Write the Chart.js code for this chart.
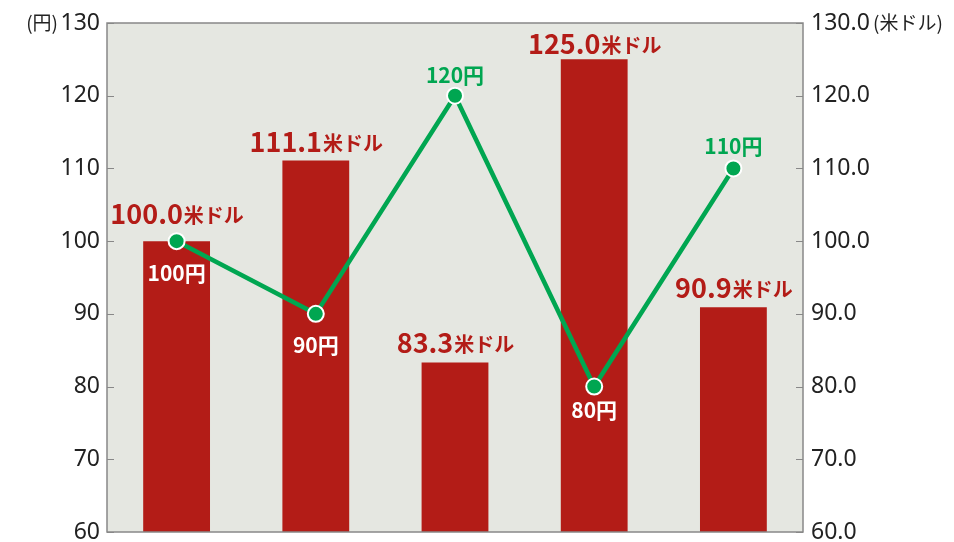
<!DOCTYPE html>
<html>
<head>
<meta charset="utf-8">
<script src="https://cdn.jsdelivr.net/npm/chart.js@4.4.1/dist/chart.umd.min.js"></script>
<style>
  html, body { margin: 0; padding: 0; background: #fff; }
  #wrap { width: 954px; height: 542px; }
</style>
</head>
<body>
<div id="wrap"><canvas id="chart" width="954" height="542"></canvas></div>
<script>
// values
var categories = ['1', '2', '3', '4', '5'];
var usdValues = [100.0, 111.1, 83.3, 125.0, 90.9];
var yenValues = [100, 90, 120, 80, 110];
var yTicks = [60, 70, 80, 90, 100, 110, 120, 130];

var RED = '#b31c17';
var GREEN = '#00a651';
var FONT = '"Noto Sans CJK JP", "Noto Sans", sans-serif';
var NUMFONT = '"Noto Sans", "Noto Sans CJK JP", sans-serif';

// label tweaks (px)
var barLabelLift = [27, 18, 20, 15, 19];
var yenLabelShift = [32, 31, -21, 23, -22];
var yenLabelWhite = [true, true, false, true, false];

var plotDeco = {
    id: 'plotDeco',
    beforeDatasetsDraw: function (chart) {
        var ctx = chart.ctx, a = chart.chartArea;
        ctx.save();
        ctx.fillStyle = '#e5e7e1';
        ctx.fillRect(a.left, a.top, a.right - a.left, a.bottom - a.top);
        ctx.restore();
    },
    afterDatasetsDraw: function (chart) {
        var ctx = chart.ctx, a = chart.chartArea;
        var yl = chart.scales.y, yr = chart.scales.y2;
        ctx.save();
        ctx.strokeStyle = '#888';
        ctx.lineWidth = 1.5;
        ctx.strokeRect(a.left, a.top, a.right - a.left, a.bottom - a.top);
        ctx.lineWidth = 1.2;
        yTicks.forEach(function (v) {
            var py = Math.round(yl.getPixelForValue(v)) + 0.5;
            ctx.beginPath();
            ctx.moveTo(a.left, py); ctx.lineTo(a.left + 7, py);
            ctx.moveTo(a.right, py); ctx.lineTo(a.right - 7, py);
            ctx.stroke();
        });

        // unit labels
        ctx.fillStyle = '#222';
        ctx.font = '19px ' + FONT;
        ctx.textBaseline = 'middle';
        ctx.textAlign = 'right';
        ctx.fillText('(円)', 58, yl.getPixelForValue(130));
        ctx.textAlign = 'left';
        ctx.fillText('(米ドル)', 873, yr.getPixelForValue(130));

        // bar labels
        var bars = chart.getDatasetMeta(1).data;
        bars.forEach(function (bar, i) {
            var num = usdValues[i].toFixed(1);
            ctx.font = 'bold 27px ' + FONT;
            var w1 = ctx.measureText(num).width;
            ctx.font = 'bold 20px ' + FONT;
            var w2 = ctx.measureText('米ドル').width;
            var x0 = bar.x - (w1 + w2) / 2;
            var yb = bar.y - barLabelLift[i] + 10;
            ctx.fillStyle = RED;
            ctx.textAlign = 'left';
            ctx.textBaseline = 'alphabetic';
            ctx.font = 'bold 27px ' + FONT;
            ctx.fillText(num, x0, yb);
            ctx.font = 'bold 20px ' + FONT;
            ctx.fillText('米ドル', x0 + w1 + 1, yb - 1);
        });

        // yen labels
        var pts = chart.getDatasetMeta(0).data;
        pts.forEach(function (p, i) {
            ctx.font = 'bold 21px ' + FONT;
            ctx.textAlign = 'center';
            ctx.textBaseline = 'middle';
            ctx.fillStyle = yenLabelWhite[i] ? '#fff' : GREEN;
            ctx.fillText(yenValues[i] + '円', p.x, p.y + yenLabelShift[i]);
        });
        ctx.restore();
    }
};

var tickFont = { family: NUMFONT, size: 23 };

function fixScale(w) {
    return function (s) {
        s.width = w;
        s.paddingTop = 0;
        s.paddingBottom = 0;
    };
}

new Chart(document.getElementById('chart'), {
    type: 'bar',
    data: {
        labels: categories,
        datasets: [
            {
                type: 'line',
                label: '円',
                data: yenValues,
                yAxisID: 'y',
                borderColor: GREEN,
                borderWidth: 4.5,
                pointBackgroundColor: GREEN,
                pointBorderColor: '#fff',
                pointBorderWidth: 2,
                pointRadius: 8,
                tension: 0,
                order: 0
            },
            {
                label: '米ドル',
                data: usdValues,
                yAxisID: 'y2',
                backgroundColor: RED,
                barPercentage: 0.48,
                categoryPercentage: 1,
                order: 1
            }
        ]
    },
    options: {
        responsive: false,
        animation: false,
        layout: { padding: { top: 23, bottom: 8, left: 0, right: 0 } },
        plugins: { legend: { display: false }, tooltip: { enabled: false } },
        scales: {
            x: { display: false, offset: true },
            y: {
                position: 'left',
                min: 60, max: 130,
                afterFit: fixScale(107),
                afterBuildTicks: function (s) { s.ticks = yTicks.map(function (v) { return { value: v }; }); },
                grid: { display: true, drawOnChartArea: false, drawTicks: false },
                border: { display: false },
                ticks: { color: '#222', font: tickFont, padding: 7 }
            },
            y2: {
                position: 'right',
                min: 60, max: 130,
                afterFit: fixScale(151),
                afterBuildTicks: function (s) { s.ticks = yTicks.map(function (v) { return { value: v }; }); },
                grid: { display: true, drawOnChartArea: false, drawTicks: false },
                border: { display: false },
                ticks: {
                    color: '#222', font: tickFont, padding: 8,
                    callback: function (v) { return Number(v).toFixed(1); }
                }
            }
        }
    },
    plugins: [plotDeco]
});
</script>
</body>
</html>
